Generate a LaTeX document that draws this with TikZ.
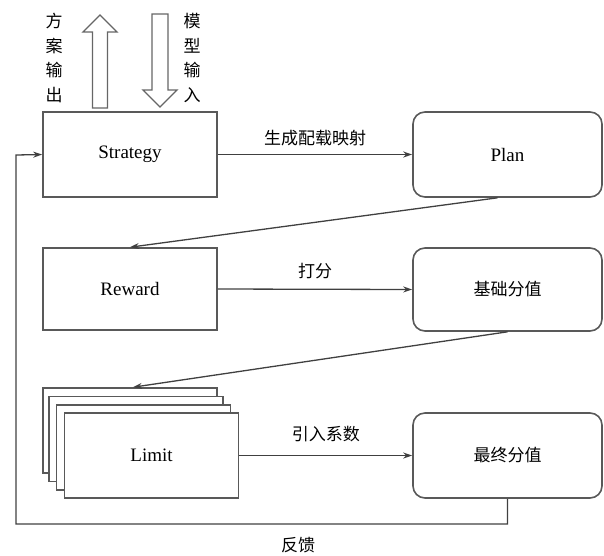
\documentclass[tikz,border=0pt]{standalone}
\usepackage{fontspec}
\setmainfont{Liberation Serif}
\newfontfamily\cjk{Noto Sans CJK SC}
\usetikzlibrary{arrows.meta,calc}
\begin{document}
\begin{tikzpicture}[x=1pt,y=-1pt,
  box/.style={draw=black!65,line width=1.6pt,fill=white,minimum width=174pt,minimum height=85pt,inner sep=0pt,font=\fontsize{19}{22}\selectfont},
  rbox/.style={box,rounded corners=12pt,minimum width=189pt,font=\cjk\fontsize{17}{20}\selectfont},
  conn/.style={draw=black!75,line width=1.3pt,-{Stealth[length=9pt,width=6pt]}},
  lbl/.style={font=\cjk\fontsize{17}{20}\selectfont,inner sep=0pt},
  vlbl/.style={font=\cjk\fontsize{17}{24.5}\selectfont,align=center,inner sep=0pt},
  blockarrow/.style={draw=black!60,line width=1.3pt,fill=white,line join=miter}]
\useasboundingbox (0,0) rectangle (604,555);
% block arrows
\draw[blockarrow] (92.5,108) -- (92.5,32) -- (83,32) -- (100,15) -- (117,32) -- (107.5,32) -- (107.5,108) -- cycle;
\draw[blockarrow] (152,14) -- (168,14) -- (168,90) -- (177,90) -- (160,107) -- (143,90) -- (152,90) -- cycle;
\node[vlbl] (out) at (54,58) {方\\案\\输\\出};
\node[vlbl] (in) at (192,58) {模\\型\\输\\入};
% main nodes
\node[box] (strat) at (130,154.5) {Strategy};
\node[rbox,font=\fontsize{19}{22}\selectfont] (plan) at (507.5,154.5) {Plan};
\node[box,minimum height=82pt] (reward) at (130,289) {Reward};
\node[rbox,minimum height=83pt] (base) at (507.5,289.5) {基础分值};
% limit stack
\node[box] (s1) at (130,430.5) {};
\node[box] (s2) at (136,439) {};
\node[box] (s3) at (143.5,447.5) {};
\node[box] (limit) at (151.5,455.5) {Limit};
\node[rbox] (final) at (507.5,455.5) {最终分值};
% connectors
\draw[conn] (strat.east) -- node[lbl,above=8pt] (l1) {生成配载映射} (plan.west);
\draw[conn] ($(plan.south)+(-10,0)$) -- (reward.north);
\draw[conn] (reward.east) -- node[lbl,above=10pt] (l2) {打分} (base.west);
\draw[conn] (base.south) -- ($(s1.north)+(3,0)$);
\draw[conn] (limit.east) -- node[lbl,above=13pt] (l3) {引入系数} (final.west);
\coordinate (fb1) at (507.5,524);
\coordinate (fb2) at (16,524);
\coordinate (fb3) at (16,155);
\draw[conn] (final.south) -- (fb1) -- (fb2) -- (fb3) -- (strat.west);
\node[lbl] (fb) at (298,545) {反馈};
\end{tikzpicture}
\end{document}
